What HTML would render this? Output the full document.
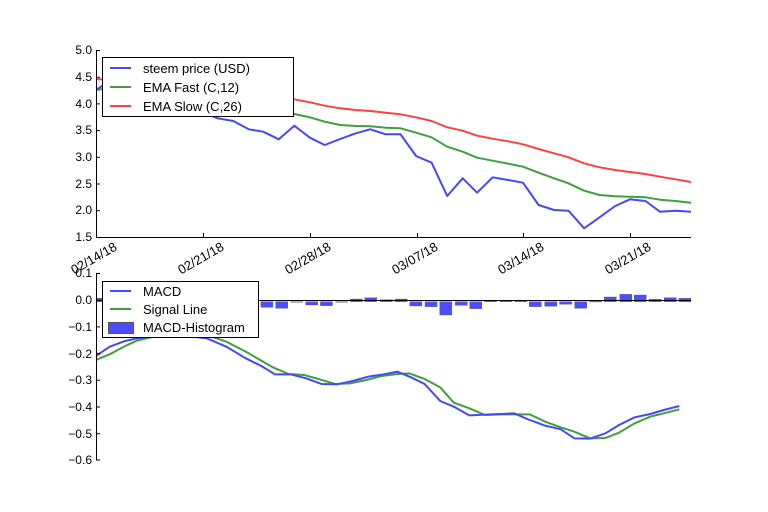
<!DOCTYPE html>
<html><head><meta charset="utf-8"><style>
html,body{margin:0;padding:0;background:#fff;}
svg{display:block;font-family:"Liberation Sans","DejaVu Sans",sans-serif;}
</style></head><body>
<svg width="768" height="512" viewBox="0 0 768 512" xmlns="http://www.w3.org/2000/svg">
<rect width="768" height="512" fill="#fff"/>
<defs>
<clipPath id="c1"><rect x="96" y="50" width="595" height="187"/></clipPath>
<clipPath id="c2"><rect x="96" y="273" width="595" height="187"/></clipPath>
</defs>
<!-- TOP CHART -->
<g clip-path="url(#c1)" fill="none" stroke-width="2" stroke-linejoin="round">
<polyline stroke="#ff4040" points="96,79 111,80 127,82 142,83 157,85 172,87 187,89 202,91 218,92 233,93 248,94 263,96 278.8,97.3 294.3,99.3 309.9,102.3 324.7,105.7 340.2,108.3 355.8,110 370.2,111 385.7,112.7 400.5,114.3 416.1,117.3 431.6,121 447.2,127.3 462.7,130.7 477.1,135.7 492.7,138.7 508.2,141.3 523,144.3 538.6,149 554.1,153.3 568.5,157.3 584.1,163.3 599.6,167.3 615.2,170 630,172 645.5,174 659.9,176.7 675.5,179.3 691,182"/>
<polyline stroke="#3da03d" points="96,90 111,88 127,87 142,88 157,89 172,91 187,94 202,97 218,100 233,102 248,104 253.5,106.7 278.8,111.7 294.3,114 309.9,117.3 324.7,121.7 340.2,125 355.8,126 370.2,126.3 385.7,127.7 400.5,128.3 416.1,132.7 431.6,137.3 447.2,146.7 462.7,151.7 477.1,157.7 492.7,160.7 508.2,163.7 523,166.7 538.6,172.7 554.1,178.3 568.5,183.3 584.1,190.7 599.6,195 615.2,196.3 630,196.7 645.5,197.3 659.9,199.7 675.5,201 691,202.7"/>
<polyline stroke="#4646ff" points="96,90 111,80 127,77 142,80 157,85 172,95 187,105 202,112 217.7,118.3 233.3,121 248.8,129.3 263.2,131.7 278.8,139.3 294.3,125.7 309.9,137.7 324.7,145 340.2,139 355.8,133.3 370.2,129.3 385.7,134.3 400.5,134.3 416.1,156 431.6,162.7 447.2,196 462.7,178.3 477.1,192.7 492.7,177.3 508.2,180 523,182.7 538.6,205 554.1,210 568.5,210.7 584.1,228.3 599.6,217.3 615.2,206 630,199.3 645.5,201 659.9,211.7 675.5,210.7 691,211.7"/>
</g>
<g stroke="#000" stroke-width="1" fill="none">
<line x1="96.5" y1="50" x2="96.5" y2="237"/>
<line x1="96" y1="237.5" x2="691" y2="237.5"/>
<path d="M96,50.5h4M96,77.2h4M96,103.9h4M96,130.6h4M96,157.3h4M96,184h4M96,210.7h4"/>
<path d="M203.5,237v-4M310.5,237v-4M417.5,237v-4M523.5,237v-4M630.5,237v-4"/>
</g>
<g font-size="12" text-anchor="end" fill="#000">
<text x="92" y="54">5.0</text><text x="92" y="81">4.5</text><text x="92" y="108">4.0</text><text x="92" y="134">3.5</text><text x="92" y="161">3.0</text><text x="92" y="188">2.5</text><text x="92" y="214">2.0</text><text x="92" y="241">1.5</text>
</g>
<g font-size="13" text-anchor="middle" fill="#000">
<text transform="translate(96,262) rotate(-30)">02/14/18</text>
<text transform="translate(203,262) rotate(-30)">02/21/18</text>
<text transform="translate(310,262) rotate(-30)">02/28/18</text>
<text transform="translate(417,262) rotate(-30)">03/07/18</text>
<text transform="translate(523,262) rotate(-30)">03/14/18</text>
<text transform="translate(630,262) rotate(-30)">03/21/18</text>
</g>
<rect x="102.5" y="57.5" width="191" height="59" fill="#fff" stroke="#000"/>
<g stroke-width="2"><line x1="110" y1="68" x2="131" y2="68" stroke="#4646ff"/><line x1="110" y1="87" x2="131" y2="87" stroke="#3da03d"/><line x1="110" y1="106" x2="131" y2="106" stroke="#ff4040"/></g>
<g font-size="13" fill="#000"><text x="143" y="73">steem price (USD)</text><text x="143" y="92">EMA Fast (C,12)</text><text x="143" y="111">EMA Slow (C,26)</text></g>

<!-- BOTTOM CHART -->
<g clip-path="url(#c2)">
<g transform="translate(90.17,270) scale(0.3889,0.3333)" fill="#4d4dff" stroke="#555" stroke-width="1" vector-effect="non-scaling-stroke">
<rect x="0" y="85" width="31" height="10"/>
<rect x="439" y="95" width="31" height="17"/>
<rect x="477" y="95" width="31" height="20"/>
<rect x="516" y="95" width="31" height="2"/>
<rect x="554" y="95" width="31" height="10"/>
<rect x="592" y="95" width="31" height="12"/>
<rect x="631" y="95" width="31" height="2"/>
<rect x="669" y="87" width="31" height="8"/>
<rect x="706" y="83" width="31" height="12"/>
<rect x="746" y="89" width="31" height="6"/>
<rect x="784" y="87" width="31" height="8"/>
<rect x="822" y="95" width="31" height="13"/>
<rect x="861" y="95" width="31" height="15"/>
<rect x="899" y="95" width="31" height="40"/>
<rect x="939" y="95" width="31" height="11"/>
<rect x="976" y="95" width="31" height="21"/>
<rect x="1014" y="93" width="31" height="2"/>
<rect x="1054" y="93" width="31" height="2"/>
<rect x="1092" y="91" width="31" height="4"/>
<rect x="1129" y="95" width="31" height="15"/>
<rect x="1169" y="95" width="31" height="14"/>
<rect x="1207" y="95" width="31" height="8"/>
<rect x="1246" y="95" width="31" height="20"/>
<rect x="1284" y="94" width="31" height="2"/>
<rect x="1322" y="81" width="31" height="14"/>
<rect x="1362" y="73" width="31" height="22"/>
<rect x="1399" y="75" width="31" height="20"/>
<rect x="1437" y="88" width="31" height="7"/>
<rect x="1476" y="83" width="31" height="12"/>
<rect x="1514" y="85" width="31" height="10"/>
</g>
<line x1="96" y1="300.5" x2="691" y2="300.5" stroke="#000" stroke-width="1"/>
<g transform="translate(90.17,270) scale(0.3889,0.3333)" fill="none" stroke-width="2" stroke-linejoin="round">
<polyline vector-effect="non-scaling-stroke" stroke="#3da03d" points="15,270 50,253 90,228 120,212 200,190 300,195 350,215 400,245 470,292 510,312 550,315 590,328 630,342 670,340 710,330 750,318 790,312 820,310 860,327 900,352 935,398 975,415 1015,435 1055,433 1090,433 1130,433 1170,455 1210,472 1245,485 1285,505 1325,504 1360,488 1400,460 1440,440 1475,430 1515,418"/>
<polyline vector-effect="non-scaling-stroke" stroke="#4646ff" points="15,258 50,230 90,213 120,205 200,190 300,205 350,230 400,265 440,288 475,313 515,313 555,325 595,342 635,343 675,333 715,320 755,313 790,305 825,322 860,342 900,393 935,410 975,436 1015,434 1055,432 1090,430 1130,450 1170,467 1210,478 1245,505 1285,506 1325,490 1360,465 1400,442 1440,432 1475,420 1515,408"/>
</g>
</g>
<g stroke="#000" stroke-width="1" fill="none">
<line x1="96.5" y1="273" x2="96.5" y2="460"/>
<path d="M96,273.5h4M96,300.2h4M96,326.9h4M96,353.6h4M96,380.3h4M96,407h4M96,433.7h4M96,460h4"/>
</g>
<g font-size="12" text-anchor="end" fill="#000">
<text x="92" y="277">0.1</text><text x="92" y="304">0.0</text><text x="92" y="331">−0.1</text><text x="92" y="358">−0.2</text><text x="92" y="384">−0.3</text><text x="92" y="411">−0.4</text><text x="92" y="438">−0.5</text><text x="92" y="464">−0.6</text>
</g>
<rect x="102.5" y="281.5" width="156" height="56" fill="#fff" stroke="#000"/>
<g stroke-width="2"><line x1="110" y1="291" x2="131" y2="291" stroke="#4646ff"/><line x1="110" y1="309" x2="131" y2="309" stroke="#3da03d"/></g>
<rect x="108.5" y="322.5" width="25" height="11" fill="#4d4dff" stroke="#555"/>
<g font-size="13" fill="#000"><text x="143" y="296">MACD</text><text x="143" y="314">Signal Line</text><text x="143" y="332">MACD-Histogram</text></g>
</svg>
</body></html>
